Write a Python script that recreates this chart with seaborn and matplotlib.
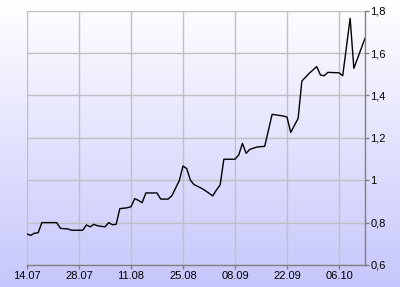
import numpy as np
import pandas as pd
import matplotlib
matplotlib.use("Agg")
import matplotlib.pyplot as plt
import matplotlib.dates as mdates
from matplotlib.ticker import FuncFormatter, FixedLocator
import seaborn as sns

dates = ["2025-07-14", "2025-07-15", "2025-07-16", "2025-07-17", "2025-07-18",
         "2025-07-22", "2025-07-23", "2025-07-25", "2025-07-26", "2025-07-29",
         "2025-07-30", "2025-07-31", "2025-08-01", "2025-08-02", "2025-08-04",
         "2025-08-05", "2025-08-06", "2025-08-07", "2025-08-08", "2025-08-10",
         "2025-08-11", "2025-08-12", "2025-08-13", "2025-08-14", "2025-08-15",
         "2025-08-18", "2025-08-19", "2025-08-21", "2025-08-22", "2025-08-24",
         "2025-08-25", "2025-08-26", "2025-08-27", "2025-08-28", "2025-08-30",
         "2025-08-31", "2025-09-02", "2025-09-03", "2025-09-04", "2025-09-05",
         "2025-09-08", "2025-09-09", "2025-09-10", "2025-09-11", "2025-09-12",
         "2025-09-14", "2025-09-16", "2025-09-18", "2025-09-21", "2025-09-22",
         "2025-09-23", "2025-09-25", "2025-09-26", "2025-09-27", "2025-09-28",
         "2025-09-30", "2025-10-01", "2025-10-02", "2025-10-03", "2025-10-06",
         "2025-10-07", "2025-10-09", "2025-10-10", "2025-10-13"]
values = [0.746, 0.740, 0.750, 0.752, 0.800,
          0.800, 0.773, 0.770, 0.764, 0.764,
          0.789, 0.780, 0.792, 0.785, 0.780,
          0.800, 0.790, 0.792, 0.866, 0.870,
          0.875, 0.913, 0.905, 0.894, 0.940,
          0.940, 0.911, 0.911, 0.927, 0.998,
          1.067, 1.055, 1.000, 0.979, 0.962,
          0.951, 0.926, 0.954, 0.978, 1.099,
          1.099, 1.119, 1.174, 1.127, 1.146,
          1.157, 1.160, 1.311, 1.303, 1.298,
          1.226, 1.292, 1.468, 1.486, 1.505,
          1.536, 1.497, 1.493, 1.509, 1.507,
          1.493, 1.764, 1.528, 1.670]

x_ticks = ["2025-07-14", "2025-07-28", "2025-08-11", "2025-08-25",
           "2025-09-08", "2025-09-22", "2025-10-06"]
y_ticks = [0.6, 0.8, 1.0, 1.2, 1.4, 1.6, 1.8]
x_start, x_end = "2025-07-14", "2025-10-13"

df = pd.DataFrame({"date": pd.to_datetime(dates), "value": values})

sns.set_style("white")
plt.rcParams['font.family'] = ['Liberation Sans', 'DejaVu Sans']

fig = plt.figure(figsize=(4.0, 2.87), dpi=100)

# gradient background over the whole figure
bg = fig.add_axes([0, 0, 1, 1], zorder=0)
top = np.array([1.0, 1.0, 1.0])
bot = np.array([198, 198, 252]) / 255.0
t = np.linspace(0, 1, 256)[:, None]
grad = (1 - t) * top + t * bot
bg.imshow(grad[:, None, :], aspect='auto', extent=[0, 1, 0, 1], origin='upper')
bg.axis('off')

ax = fig.add_axes([27/400, 1 - 265/287, (365-27)/400, (265-10.7)/287], zorder=1)
ax.set_facecolor('none')

sns.lineplot(data=df, x="date", y="value", ax=ax, color='black', linewidth=1.0)

ax.set_xlim(pd.Timestamp(x_start), pd.Timestamp(x_end))
ax.set_ylim(y_ticks[0], y_ticks[-1])
ax.xaxis.set_major_locator(FixedLocator(mdates.date2num(pd.to_datetime(x_ticks))))
ax.xaxis.set_major_formatter(mdates.DateFormatter('%d.%m'))
ax.set_yticks(y_ticks)
ax.yaxis.set_major_formatter(FuncFormatter(lambda v, p: f"{v:g}".replace('.', ',')))
ax.yaxis.tick_right()

ax.grid(True, color='#c0c0c0', linewidth=1.0)
ax.set_axisbelow(True)
for s in ['left', 'top']:
    ax.spines[s].set_visible(False)
for s in ['right', 'bottom']:
    ax.spines[s].set_visible(True)
    ax.spines[s].set_color('#808080')
    ax.spines[s].set_linewidth(1.0)

ax.tick_params(axis='x', direction='out', length=3, width=1, color='#808080',
               pad=1.5, labelsize=8, labelcolor='black', bottom=True)
ax.tick_params(axis='y', direction='out', length=3, width=1, color='#808080',
               pad=1, labelsize=8, labelcolor='black', right=True, left=False)
ax.set_xlabel("")
ax.set_ylabel("")

fig.savefig("out.png", dpi=100)
